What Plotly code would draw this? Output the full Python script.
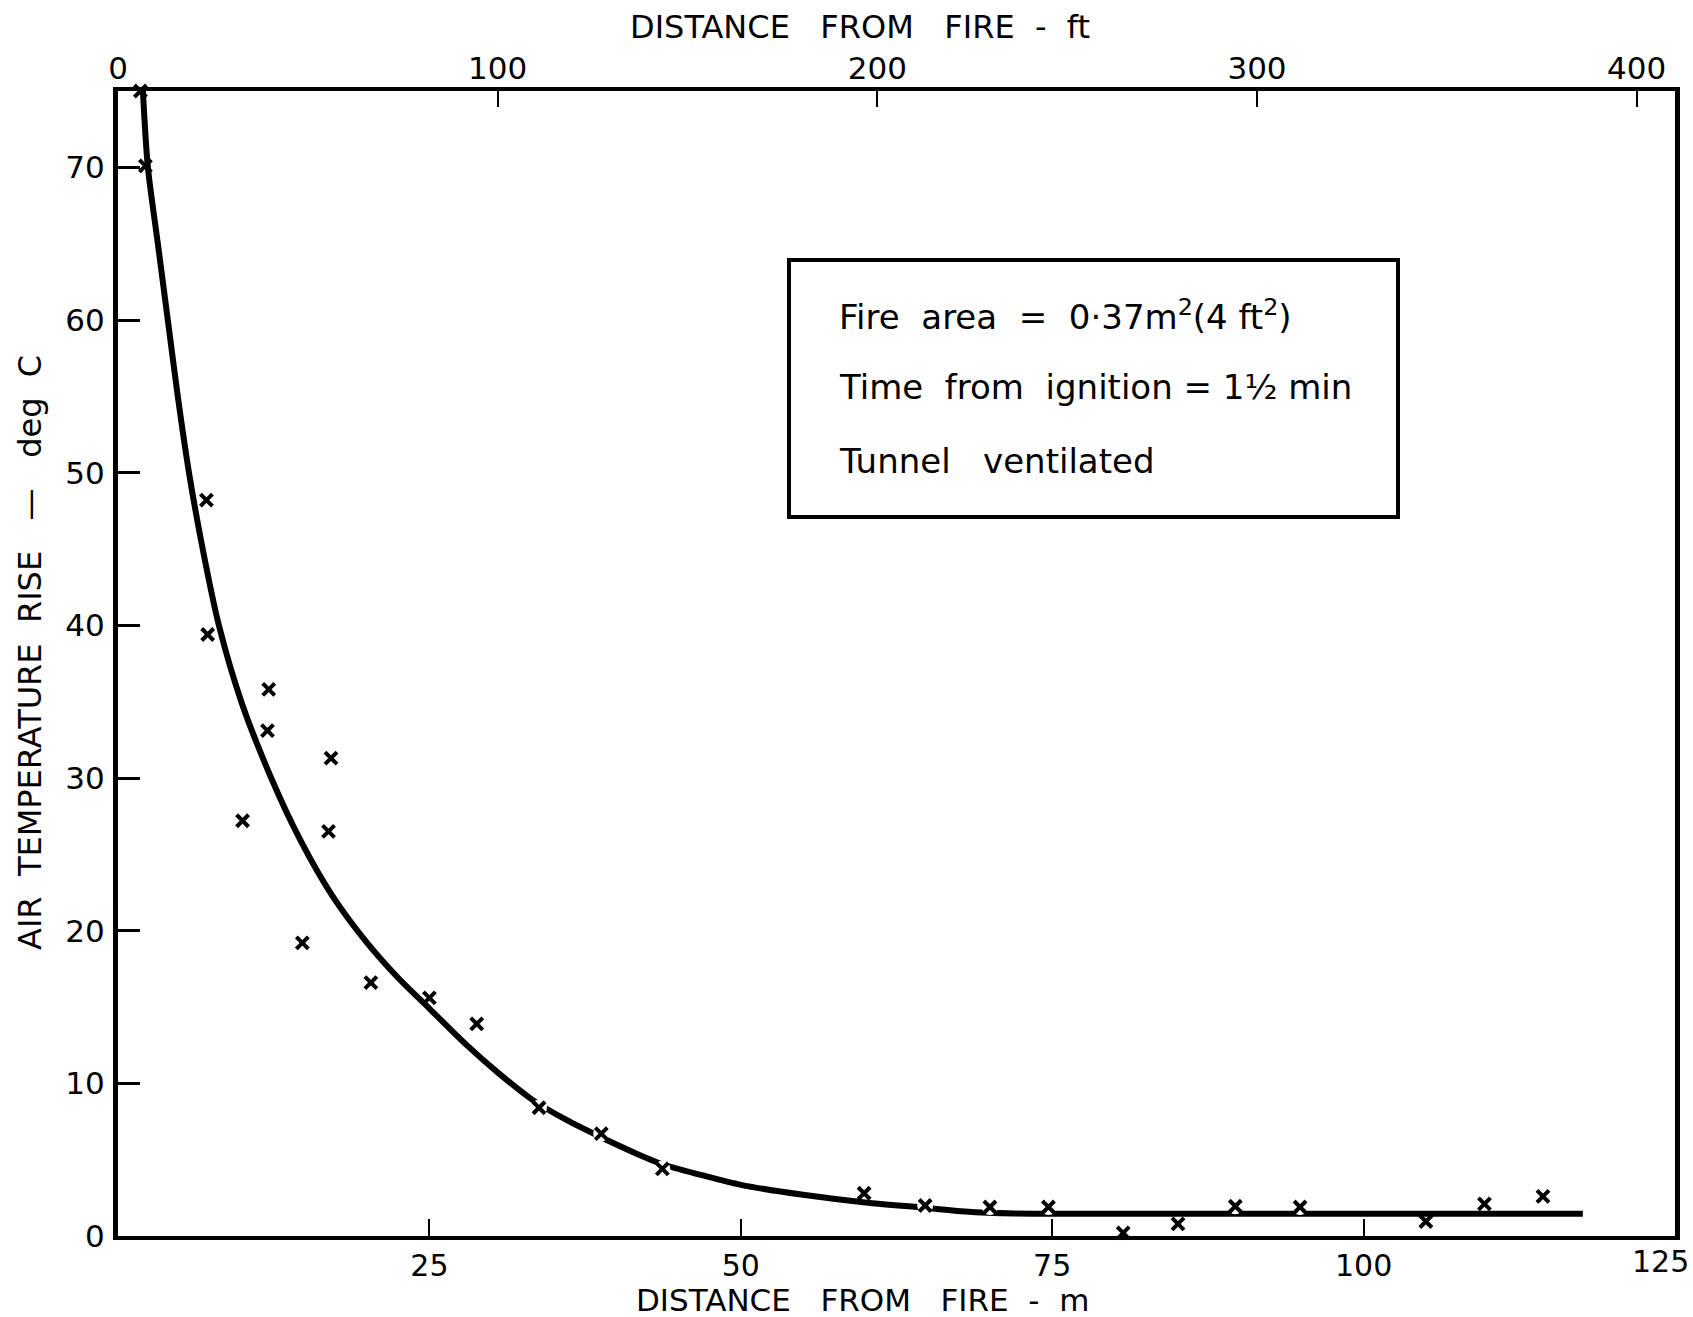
import plotly.graph_objects as go

# ---- data ----
# fitted curve: distance from fire (m) vs air temperature rise (deg C)
curve_x = [2.0, 2.4, 3.2, 4.0, 4.8, 5.7, 6.8, 8.1, 9.9, 12.3, 14.6, 17.2, 20.0, 22.5, 25.0,
           28.0, 30.5, 33.3, 36.0, 38.7, 41.2, 43.7, 46.8, 50.0, 55.0, 60.0, 64.8, 68.0,
           72.0, 80.0, 117.6]
curve_y = [75.0, 70.0, 65.0, 60.0, 55.0, 50.0, 45.0, 40.0, 35.0, 30.0, 26.0, 22.3, 19.2, 16.9, 14.9,
           12.5, 10.7, 8.9, 7.6, 6.5, 5.55, 4.7, 4.0, 3.35, 2.7, 2.2, 1.85, 1.6,
           1.47, 1.45, 1.45]

# measured points
pts_x = [1.8, 2.2, 7.1, 7.2, 10.0, 12.1, 12.0, 14.8, 16.9, 17.1, 20.3, 25.0, 28.8, 33.8, 38.8,
         43.7, 59.9, 64.8, 70.0, 74.7, 80.7, 85.1, 89.7, 94.9, 105.0, 109.7, 114.4]
pts_y = [75.0, 70.1, 48.2, 39.4, 27.2, 35.8, 33.1, 19.2, 26.5, 31.3, 16.6, 15.6, 13.9, 8.4, 6.7,
         4.4, 2.8, 2.0, 1.9, 1.9, 0.2, 0.8, 1.95, 1.9, 0.95, 2.1, 2.6]
# points that sit on the curve (the printed line is broken around them)
on_curve_idx = [13, 14, 15, 17, 18, 19, 22, 23]

x_ticks_m = [25, 50, 75, 100]
y_ticks = [0, 10, 20, 30, 40, 50, 60, 70]
ft_ticks = [0, 100, 200, 300, 400]
M_PER_FT = 0.3048
X_MAX_M = 125
Y_MAX = 75

FONT = "DejaVu Sans"
W, H = 1693, 1317
L, R, T, B = 118, 1675, 91, 1236


def px(xp):
    return (xp - L) / (R - L)


def py(yp):
    return (B - yp) / (B - T)


fig = go.Figure()

fig.add_trace(go.Scatter(
    x=curve_x, y=curve_y, mode="lines",
    line=dict(color="black", width=6, shape="spline", smoothing=0.8),
    showlegend=False, hoverinfo="skip"))

fig.add_trace(go.Scatter(
    x=[pts_x[i] for i in on_curve_idx], y=[pts_y[i] for i in on_curve_idx],
    mode="markers", marker=dict(symbol="circle", size=16, color="white"),
    showlegend=False, hoverinfo="skip"))

fig.add_trace(go.Scatter(
    x=pts_x, y=pts_y, mode="markers",
    marker=dict(symbol="x-thin", size=12, color="black",
                line=dict(color="black", width=4)),
    cliponaxis=False, showlegend=False))

# invisible trace to anchor the top (feet) axis
fig.add_trace(go.Scatter(
    x=[v / M_PER_FT for v in curve_x[:1]], y=curve_y[:1], xaxis="x2",
    mode="markers", marker=dict(opacity=0), showlegend=False, hoverinfo="skip"))

tickfont = dict(family=FONT, size=31, color="black")
bottomfont = dict(family=FONT, size=30, color="black")

fig.update_layout(
    width=W, height=H,
    margin=dict(l=L, r=W - R, t=T, b=H - B, pad=0),
    paper_bgcolor="white", plot_bgcolor="white",
    font=dict(family=FONT, color="black"),
    xaxis=dict(range=[0, X_MAX_M], tickvals=x_ticks_m, ticks="inside", ticklen=17,
               tickwidth=2, tickcolor="black", showline=True, linewidth=4,
               linecolor="black", mirror=True, showgrid=False, zeroline=False,
               tickfont=bottomfont, ticklabelstandoff=0),
    xaxis2=dict(range=[0, X_MAX_M / M_PER_FT], overlaying="x", side="top",
                tickvals=ft_ticks, ticks="inside", ticklen=16, tickwidth=2,
                tickcolor="black", showline=False, showgrid=False, zeroline=False,
                tickfont=tickfont, ticklabelstandoff=5),
    yaxis=dict(range=[0, Y_MAX], tickvals=y_ticks, ticks="inside", ticklen=22,
               tickwidth=3, tickcolor="black", showline=True, linewidth=5,
               linecolor="black", mirror=True, showgrid=False, zeroline=False,
               tickfont=tickfont, ticklabelstandoff=2),
)

titlefont = dict(family=FONT, size=32, color="black")
annos = [
    dict(text="DISTANCE   FROM   FIRE  -  ft", x=px(860), y=py(27), font=titlefont),
    dict(text="DISTANCE   FROM   FIRE  -  m", x=px(862), y=py(1300),
         font=dict(family=FONT, size=31, color="black")),
    dict(text="AIR  TEMPERATURE  RISE   —   deg  C", x=px(30), y=py(653), textangle=-90,
         font=titlefont),
    dict(text="125", x=1, y=py(1261), xanchor="right", xshift=16, font=bottomfont),
]
for a in annos:
    fig.add_annotation(xref="paper", yref="paper", showarrow=False,
                       xanchor=a.pop("xanchor", "center"), yanchor="middle", **a)

# legend box
fig.add_shape(type="rect", xref="paper", yref="paper",
              x0=px(789), x1=px(1398), y0=py(517), y1=py(260),
              line=dict(color="black", width=4), fillcolor="white", layer="above")
boxfont = dict(family=FONT, size=34, color="black")
box_lines = [
    ("Fire  area  =  0·37m<sup>2</sup>(4 ft<sup>2</sup>)", 315),
    ("Time  from  ignition = 1½ min", 387),
    ("Tunnel   ventilated", 461),
]
for txt, yp in box_lines:
    fig.add_annotation(xref="paper", yref="paper", x=px(837), y=py(yp), text=txt,
                       showarrow=False, xanchor="left", yanchor="middle", font=boxfont)

fig.write_html("out.html")
